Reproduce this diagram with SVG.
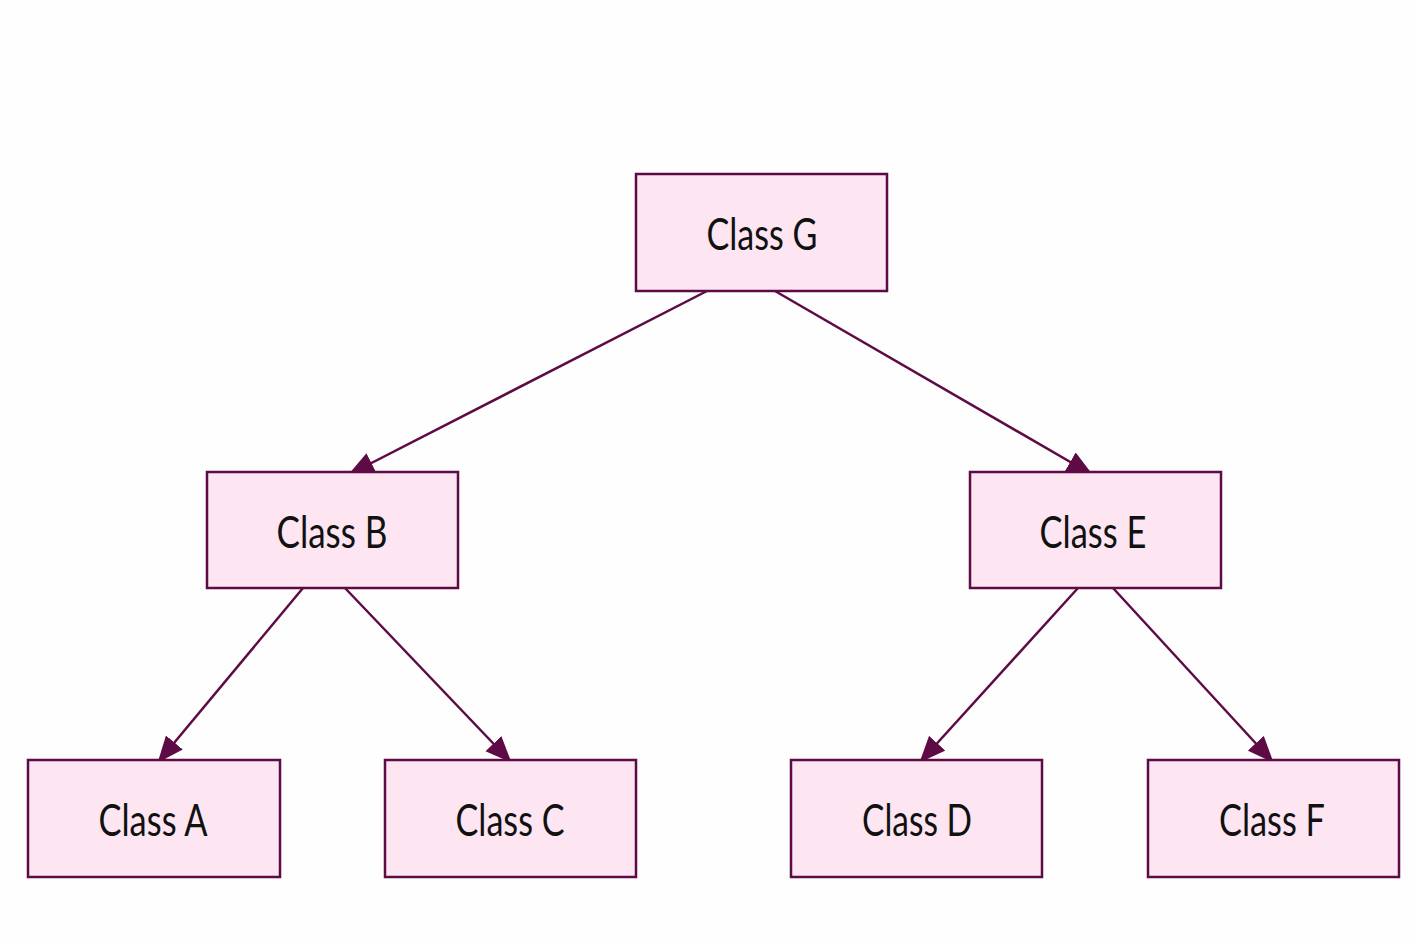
<svg xmlns="http://www.w3.org/2000/svg" width="1416" height="943" viewBox="0 0 1416 943">
  <style>
    .box { fill: #fde6f2; stroke: #5e0b45; stroke-width: 2.5; }
    .lbl { font-family: Lato, "Liberation Sans", sans-serif; font-size: 45px; fill: #111; text-anchor: middle; }
    .edge { stroke: #5e0b45; stroke-width: 2.5; fill: none; marker-end: url(#arrow); }
  </style>
  <defs>
    <marker id="arrow" viewBox="0 0 12 10" refX="11" refY="5" markerWidth="10.5" markerHeight="9" markerUnits="strokeWidth" orient="auto">
      <path d="M0,0 L12,5 L0,10 z" fill="#5e0b45"/>
    </marker>
  </defs>
  <rect width="1416" height="943" fill="#fefefe"/>
  <g id="connectors">
    <line class="edge" x1="707" y1="291" x2="350" y2="474"/>
    <line class="edge" x1="775" y1="291" x2="1091" y2="474"/>
    <line class="edge" x1="303" y1="588" x2="159" y2="761"/>
    <line class="edge" x1="345" y1="588" x2="510" y2="761"/>
    <line class="edge" x1="1078" y1="588" x2="921" y2="761"/>
    <line class="edge" x1="1113" y1="588" x2="1272" y2="761"/>
  </g>
  <g id="classG"><rect class="box" x="636" y="174" width="251" height="117"/><text class="lbl" x="762" y="250" textLength="111" lengthAdjust="spacingAndGlyphs">Class G</text></g>
  <g id="classB"><rect class="box" x="207" y="472" width="251" height="116"/><text class="lbl" x="332" y="548" textLength="111" lengthAdjust="spacingAndGlyphs">Class B</text></g>
  <g id="classE"><rect class="box" x="970" y="472" width="251" height="116"/><text class="lbl" x="1093" y="548" textLength="107" lengthAdjust="spacingAndGlyphs">Class E</text></g>
  <g id="classA"><rect class="box" x="28" y="760" width="252" height="117"/><text class="lbl" x="153" y="836" textLength="109" lengthAdjust="spacingAndGlyphs">Class A</text></g>
  <g id="classC"><rect class="box" x="385" y="760" width="251" height="117"/><text class="lbl" x="510" y="836" textLength="109" lengthAdjust="spacingAndGlyphs">Class C</text></g>
  <g id="classD"><rect class="box" x="791" y="760" width="251" height="117"/><text class="lbl" x="917" y="836" textLength="110" lengthAdjust="spacingAndGlyphs">Class D</text></g>
  <g id="classF"><rect class="box" x="1148" y="760" width="251" height="117"/><text class="lbl" x="1272" y="836" textLength="106" lengthAdjust="spacingAndGlyphs">Class F</text></g>
</svg>
